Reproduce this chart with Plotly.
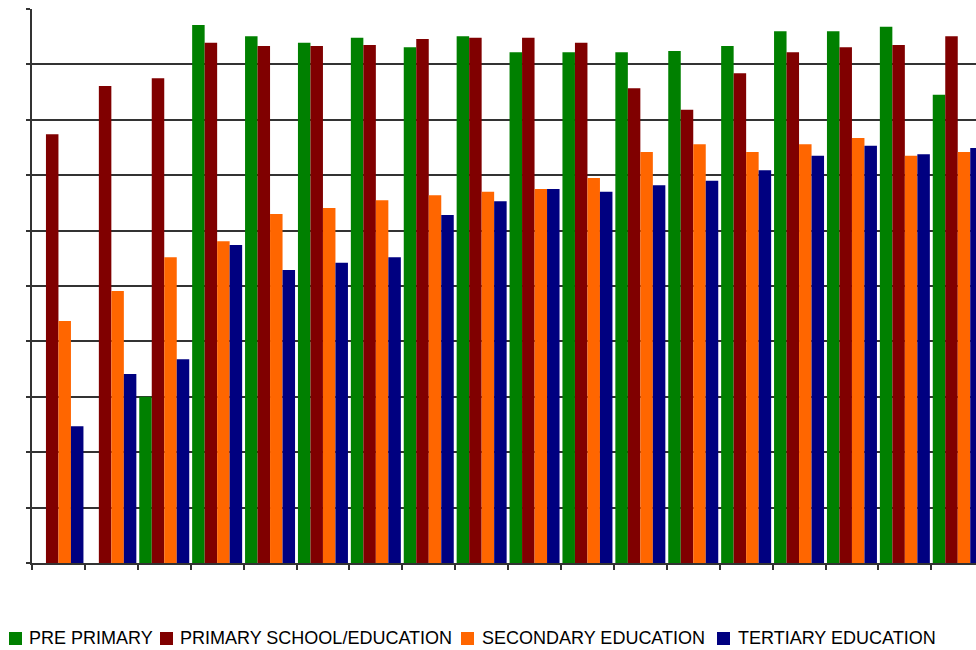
import plotly.graph_objects as go

# Enrolment by level of education, one group of four bars per period
periods = ["1", "2", "3", "4", "5", "6", "7", "8", "9", "10",
           "11", "12", "13", "14", "15", "16", "17", "18"]

pre_primary = [0, 0, 30.0, 97.1, 95.1, 93.9, 94.8, 93.1, 95.1, 92.2,
               92.2, 92.2, 92.4, 93.3, 96.0, 96.0, 96.8, 84.5]
primary = [77.4, 86.1, 87.5, 93.9, 93.3, 93.3, 93.5, 94.6, 94.8, 94.8,
           93.9, 85.7, 81.8, 88.4, 92.2, 93.1, 93.5, 95.1]
secondary = [43.7, 49.1, 55.2, 58.1, 63.0, 64.1, 65.5, 66.4, 67.0, 67.5,
             69.5, 74.2, 75.6, 74.2, 75.6, 76.7, 73.5, 74.2]
tertiary = [24.7, 34.1, 36.8, 57.4, 52.9, 54.2, 55.2, 62.8, 65.3, 67.5,
            67.0, 68.2, 69.0, 70.9, 73.5, 75.3, 73.8, 74.9]

series_names = ["PRE PRIMARY", "PRIMARY SCHOOL/EDUCATION",
                "SECONDARY EDUCATION", "TERTIARY EDUCATION"]
series_values = [pre_primary, primary, secondary, tertiary]
series_colors = ["#008000", "#800000", "#FF6600", "#000080"]

W, H = 976, 650
ML, MT, MB, MR = 32, 9, 87, 0
PW, PH = W - ML - MR, H - MT - MB

fig = go.Figure()
for name, vals, col in zip(series_names, series_values, series_colors):
    fig.add_trace(go.Bar(x=periods, y=vals, name=name,
                         marker=dict(color=col, line=dict(width=0))))


def px_to_paper_x(px):
    return (px - ML) / PW


def px_to_paper_y(py):
    return (H - MB - py) / PH


# Legend row drawn as coloured squares with text beside them
legend_items = [(9, 27), (160, 178), (461, 480), (717, 736)]
legend_y = 638
shapes = []
annotations = []
for (sq_x, tx_x), name, col in zip(legend_items, series_names, series_colors):
    shapes.append(dict(type="rect", xref="paper", yref="paper",
                       x0=px_to_paper_x(sq_x), x1=px_to_paper_x(sq_x + 13),
                       y0=px_to_paper_y(legend_y + 7), y1=px_to_paper_y(legend_y - 6),
                       fillcolor=col, line=dict(width=0)))
    annotations.append(dict(text=name, xref="paper", yref="paper",
                            x=px_to_paper_x(tx_x), y=px_to_paper_y(legend_y),
                            xanchor="left", yanchor="middle", showarrow=False,
                            font=dict(family="Liberation Sans, Arial", size=18,
                                      color="#000000")))

cat_px = 52.9
fig.update_layout(
    width=W, height=H,
    margin=dict(l=ML, r=MR, t=MT, b=MB, pad=0),
    paper_bgcolor="white", plot_bgcolor="white",
    barmode="group", bargap=0.055, bargroupgap=0,
    showlegend=False,
    shapes=shapes, annotations=annotations,
    xaxis=dict(type="category", range=[-0.5, -0.5 + PW / cat_px],
               showticklabels=False, showgrid=False,
               tickson="boundaries", ticks="outside", ticklen=5,
               tickcolor="#333333", tickwidth=1.5,
               showline=True, linecolor="#333333", linewidth=2),
    yaxis=dict(range=[0, 100], dtick=10, showticklabels=False,
               showgrid=True, gridcolor="#333333", gridwidth=1.5,
               ticks="outside", ticklen=4, tickcolor="#333333", tickwidth=1.5,
               showline=True, linecolor="#333333", linewidth=2,
               zeroline=False),
)

fig.write_html("out.html")
